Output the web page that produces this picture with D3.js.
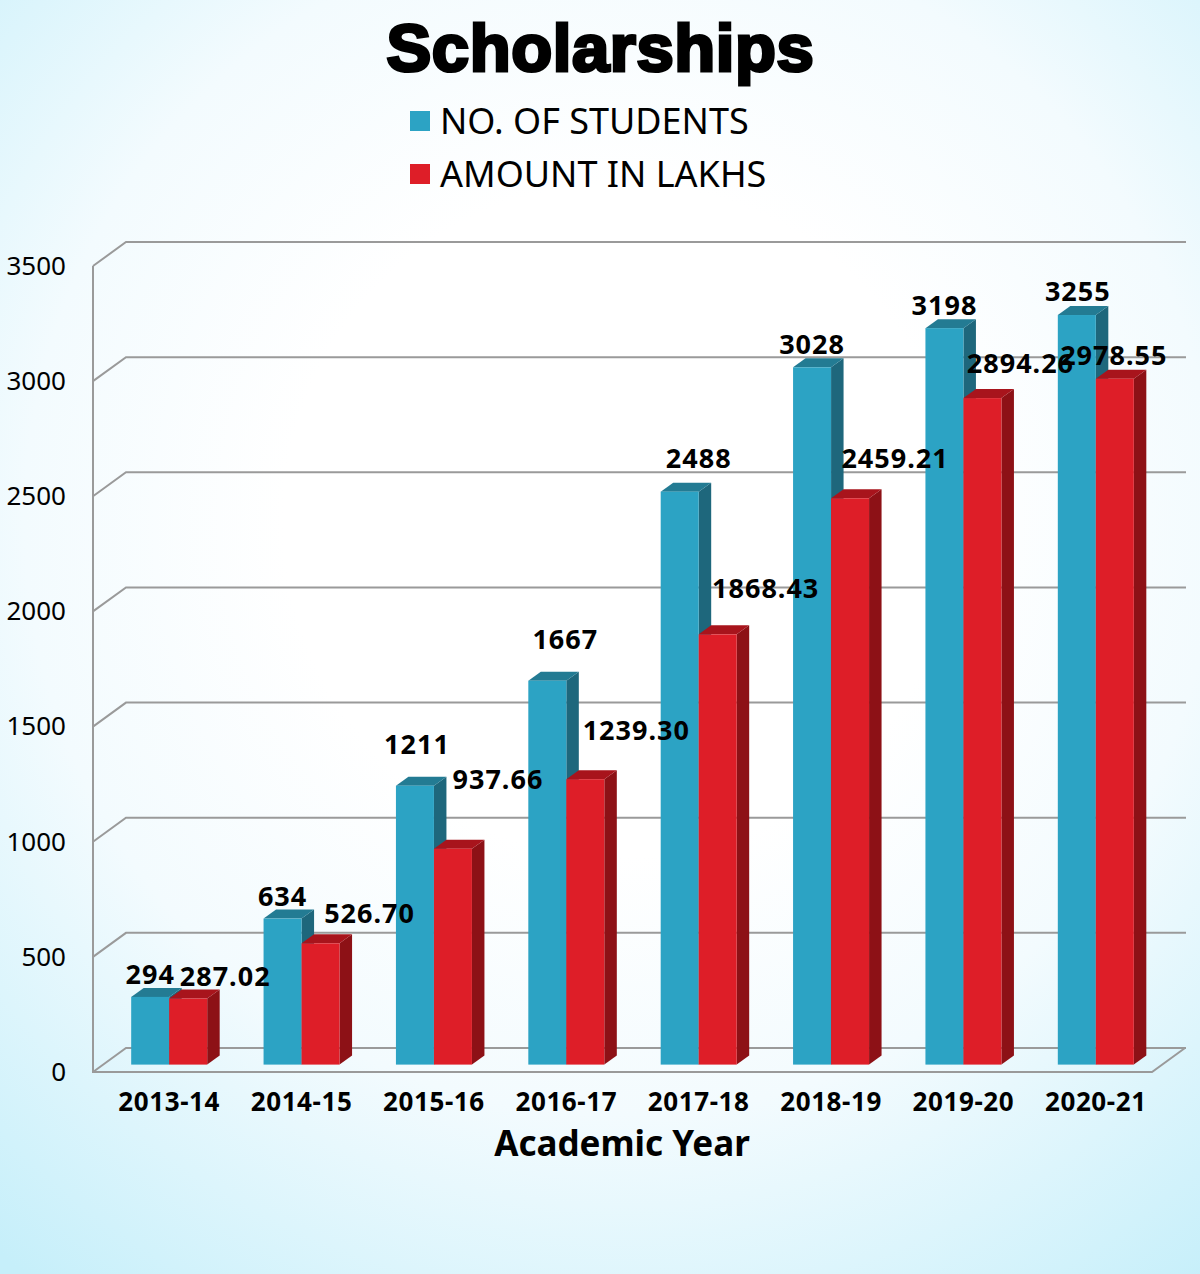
<!DOCTYPE html>
<html>
<head>
<meta charset="utf-8">
<script src="https://cdn.jsdelivr.net/npm/d3@7"></script>
<style>
  html, body { margin: 0; padding: 0; }
  svg { display: block; }
  text { fill: #000; font-family: "Noto Sans", sans-serif; }
</style>
</head>
<body>
<div id="chart"></div>
<script>
// Data
const years = ["2013-14", "2014-15", "2015-16", "2016-17", "2017-18", "2018-19", "2019-20", "2020-21"]
const students = [294, 634, 1211, 1667, 2488, 3028, 3198, 3255]
const amounts = [287.02, 526.70, 937.66, 1239.30, 1868.43, 2459.21, 2894.26, 2978.55]
const amountLabels = ["287.02", "526.70", "937.66", "1239.30", "1868.43", "2459.21", "2894.26", "2978.55"]
const yTicks = [0, 500, 1000, 1500, 2000, 2500, 3000, 3500]
const seriesNames = ["NO. OF STUDENTS", "AMOUNT IN LAKHS"]

const drawChart = () => {
  const dimensions = {
    width: 1200,
    height: 1274,
    left: 93,
    right: 1152,
    top: 266,
    bottom: 1072,
    depthX: 33,   // back wall offset
    depthY: 24,
    barGapX: 10,  // bars stand a bit inside the floor
    barGapY: 7.4,
    barDepthX: 12.5,
    barDepthY: 9,
  }
  const colors = [
    { face: "#2ca3c4", top: "#237b93", side: "#1e677c" },
    { face: "#de1e28", top: "#a8141c", side: "#8d1116" },
  ]

  const wrapper = d3.select("#chart")
    .append("svg")
    .attr("width", dimensions.width)
    .attr("height", dimensions.height)

  // Background
  const gradient = wrapper.append("defs")
    .append("radialGradient")
    .attr("id", "bg")
    .attr("gradientUnits", "userSpaceOnUse")
    .attr("cx", 620)
    .attr("cy", 520)
    .attr("r", 960)
  gradient.append("stop").attr("offset", "0.35").attr("stop-color", "#ffffff")
  gradient.append("stop").attr("offset", "0.62").attr("stop-color", "#f3fbfe")
  gradient.append("stop").attr("offset", "1").attr("stop-color", "#c6effa")
  wrapper.append("rect")
    .attr("width", dimensions.width)
    .attr("height", dimensions.height)
    .attr("fill", "url(#bg)")

  // Scales
  const xScale = d3.scaleBand()
    .domain(years)
    .range([dimensions.left, dimensions.right])
  const yScale = d3.scaleLinear()
    .domain([0, 3500])
    .range([dimensions.bottom, dimensions.top])
  const barWidth = 38

  // Walls and grid
  const grid = wrapper.append("g")
    .attr("fill", "none")
    .attr("stroke", "#9a9a9a")
    .attr("stroke-width", 2)
  grid.selectAll("path")
    .data(yTicks)
    .join("path")
    .attr("d", d => `M${dimensions.left},${yScale(d)}`
      + `L${dimensions.left + dimensions.depthX},${yScale(d) - dimensions.depthY}`
      + `H${dimensions.right + dimensions.depthX + 1}`)
  grid.append("path")
    .attr("d", `M${dimensions.left},${dimensions.top}V${dimensions.bottom}H${dimensions.right}`
      + `L${dimensions.right + dimensions.depthX},${dimensions.bottom - dimensions.depthY}`)

  // Axes
  const yAxis = wrapper.append("g")
    .attr("transform", `translate(${dimensions.left},0)`)
    .call(d3.axisLeft(yScale).tickValues(yTicks).tickSize(0).tickPadding(27).tickFormat(d3.format("d")))
  yAxis.select(".domain").remove()
  yAxis.selectAll("text")
    .attr("font-family", null)
    .style("font-size", "26px")

  const xAxis = wrapper.append("g")
    .attr("transform", `translate(${dimensions.barGapX},${dimensions.bottom})`)
    .call(d3.axisBottom(xScale).tickSize(0).tickPadding(21))
  xAxis.select(".domain").remove()
  xAxis.selectAll("text")
    .attr("font-family", null)
    .style("font-size", "26px")
    .style("font-weight", 700)
    .style("letter-spacing", "0.6px")

  wrapper.append("text")
    .attr("x", 622)
    .attr("y", 1156)
    .attr("text-anchor", "middle")
    .style("font-size", "35px")
    .style("font-weight", 700)
    .text("Academic Year")

  // Bars
  const series = [students, amounts]
  const barX = (i, s) => xScale(years[i]) + xScale.bandwidth() / 2 + dimensions.barGapX + (s - 1) * barWidth
  const barBase = yScale(0) - dimensions.barGapY
  const barTop = v => yScale(v) - dimensions.barGapY

  years.forEach((year, i) => {
    series.forEach((values, s) => {
      const x0 = barX(i, s)
      const x1 = x0 + barWidth
      const yTop = barTop(values[i])
      const dx = dimensions.barDepthX
      const dy = dimensions.barDepthY
      const bar = wrapper.append("g").attr("class", "bar")
      bar.append("path")
        .attr("fill", colors[s].side)
        .attr("d", `M${x1},${yTop}L${x1 + dx},${yTop - dy}V${barBase - dy}L${x1},${barBase}Z`)
      bar.append("path")
        .attr("fill", colors[s].top)
        .attr("d", `M${x0},${yTop}L${x0 + dx},${yTop - dy}H${x1 + dx}L${x1},${yTop}Z`)
      bar.append("rect")
        .attr("fill", colors[s].face)
        .attr("x", x0)
        .attr("y", yTop)
        .attr("width", barWidth)
        .attr("height", barBase - yTop)
    })
  })

  // Value labels, hand placed in the original so each one gets its own nudge
  const studentNudge = [[0, -13], [0, -13], [2, -32], [18, -32], [19, -24], [0, -13], [0, -13], [1, -14]]
  const amountNudge = [[37, -13], [49, -20], [45, -60], [51, -39], [48, -36], [45, -30], [38, -25], [-1, -14]]
  const labelGroups = [
    { values: students, texts: students.map(String), nudge: studentNudge },
    { values: amounts, texts: amountLabels, nudge: amountNudge },
  ]
  labelGroups.forEach((group, s) => {
    wrapper.append("g")
      .selectAll("text")
      .data(group.values)
      .join("text")
      .attr("x", (d, i) => barX(i, s) + barWidth / 2 + group.nudge[i][0])
      .attr("y", (d, i) => barTop(d) + group.nudge[i][1])
      .attr("text-anchor", "middle")
      .style("font-size", "27px")
      .style("font-weight", 700)
      .style("letter-spacing", "1px")
      .text((d, i) => group.texts[i])
  })

  // Title
  wrapper.append("text")
    .attr("x", 600.5)
    .attr("y", 71)
    .attr("text-anchor", "middle")
    .style("font-family", "'Liberation Sans', sans-serif")
    .style("font-size", "67px")
    .style("font-weight", 700)
    .style("stroke", "#000")
    .style("stroke-width", "3.2px")
    .style("letter-spacing", "0.6px")
    .text("Scholarships")

  // Legend
  const legend = wrapper.append("g")
    .selectAll("g")
    .data(seriesNames)
    .join("g")
    .attr("transform", (d, i) => `translate(410,${111 + i * 53})`)
  legend.append("rect")
    .attr("width", 20)
    .attr("height", 20)
    .attr("fill", (d, i) => colors[i].face)
  legend.append("text")
    .attr("x", 30)
    .attr("y", 23)
    .style("font-size", "36px")
    .text(d => d)
}

drawChart()
</script>
</body>
</html>
